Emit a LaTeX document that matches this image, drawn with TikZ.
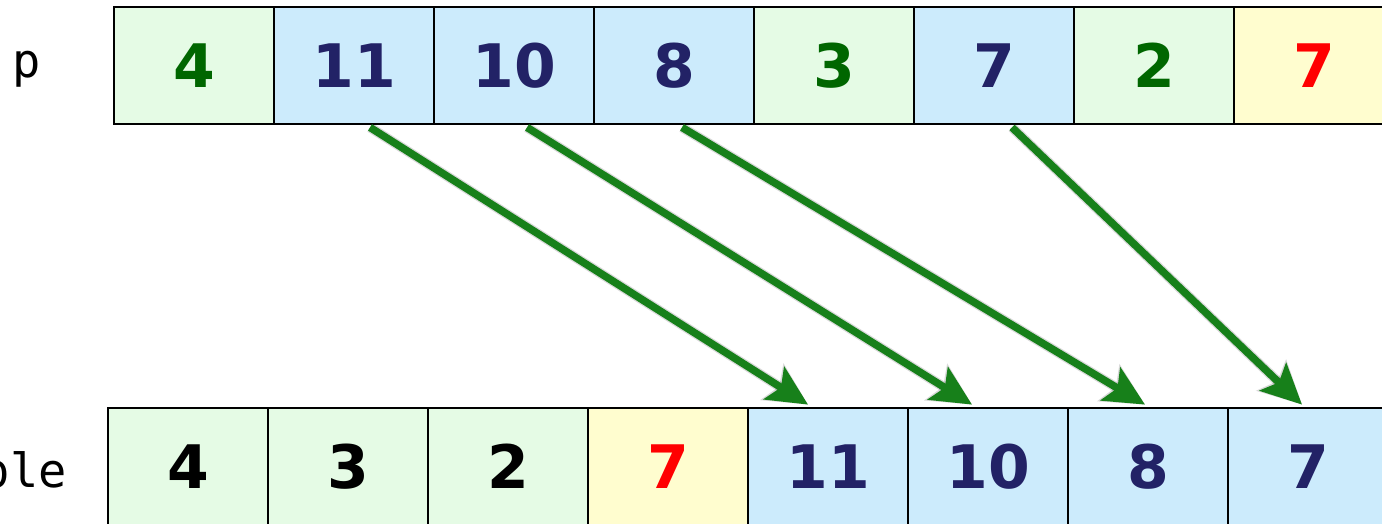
\documentclass[tikz,border=0pt]{standalone}
\usepackage{fontspec}
\setmainfont{DejaVu Sans}
\newfontfamily\monofnt{DejaVu Sans Mono}
\usetikzlibrary{arrows.meta,calc}
\definecolor{cellgreen}{HTML}{E5FBE5}
\definecolor{cellblue}{HTML}{CCEBFC}
\definecolor{cellyellow}{HTML}{FFFDCF}
\definecolor{txtgreen}{HTML}{006600}
\definecolor{txtnavy}{HTML}{222266}
\definecolor{txtred}{HTML}{FF0000}
\definecolor{arrgreen}{HTML}{17801A}
\tikzset{
  cell/.style={draw=black, line width=2.8pt, minimum width=160pt, minimum height=117pt, inner sep=0pt, font=\fontsize{60}{60}\selectfont\bfseries},
  gcell/.style={cell, fill=cellgreen},
  bcell/.style={cell, fill=cellblue},
  ycell/.style={cell, fill=cellyellow},
  lbl/.style={font=\monofnt\fontsize{47}{47}\selectfont, inner sep=0pt},
  mover/.style={draw=arrgreen, line width=7.5pt, -{Stealth[length=40pt,width=38pt,inset=8pt]}},
  moveshadow/.style={draw=black, opacity=0.15, line width=10pt, -{Stealth[length=42pt,width=42pt,inset=8pt]}}
}
\begin{document}
\begin{tikzpicture}[x=1pt,y=-1pt]
\useasboundingbox (0,0) rectangle (1382,524);
\clip (0,0) rectangle (1382,524);
% top row
\node[gcell, text=txtgreen] (t1) at (194,65.5) {4};
\node[bcell, text=txtnavy]  (t2) at (354,65.5) {11};
\node[bcell, text=txtnavy]  (t3) at (514,65.5) {10};
\node[bcell, text=txtnavy]  (t4) at (674,65.5) {8};
\node[gcell, text=txtgreen] (t5) at (834,65.5) {3};
\node[bcell, text=txtnavy]  (t6) at (994,65.5) {7};
\node[gcell, text=txtgreen] (t7) at (1154,65.5) {2};
\node[ycell, text=txtred]   (t8) at (1314,65.5) {7};
% bottom row
\node[gcell, text=black]    (b1) at (188,466.5) {4};
\node[gcell, text=black]    (b2) at (348,466.5) {3};
\node[gcell, text=black]    (b3) at (508,466.5) {2};
\node[ycell, text=txtred]   (b4) at (668,466.5) {7};
\node[bcell, text=txtnavy]  (b5) at (828,466.5) {11};
\node[bcell, text=txtnavy]  (b6) at (988,466.5) {10};
\node[bcell, text=txtnavy]  (b7) at (1148,466.5) {8};
\node[bcell, text=txtnavy]  (b8) at (1308,466.5) {7};
% labels
\node[lbl, anchor=base] (lp) at (27,78) {p};
\node[lbl, anchor=base east] (lple) at (67,487) {ple};
% arrow coordinates
\coordinate (s2) at ($(t2.south)+(16,2)$);
\coordinate (s3) at ($(t3.south)+(13,2)$);
\coordinate (s4) at ($(t4.south)+(8,2)$);
\coordinate (s6) at ($(t6.south)+(18,2)$);
\coordinate (e5) at ($(b5.north)+(-20,-2)$);
\coordinate (e6) at ($(b6.north)+(-16,-2)$);
\coordinate (e7) at ($(b7.north)+(-3,-2)$);
\coordinate (e8) at ($(b8.north)+(-6,-2)$);
% shadows
\begin{scope}[shift={(3,4)}]
\draw[moveshadow] (s2) -- (e5);
\draw[moveshadow] (s3) -- (e6);
\draw[moveshadow] (s4) -- (e7);
\draw[moveshadow] (s6) -- (e8);
\end{scope}
% arrows
\draw[mover] (s2) -- (e5);
\draw[mover] (s3) -- (e6);
\draw[mover] (s4) -- (e7);
\draw[mover] (s6) -- (e8);
\end{tikzpicture}
\end{document}
